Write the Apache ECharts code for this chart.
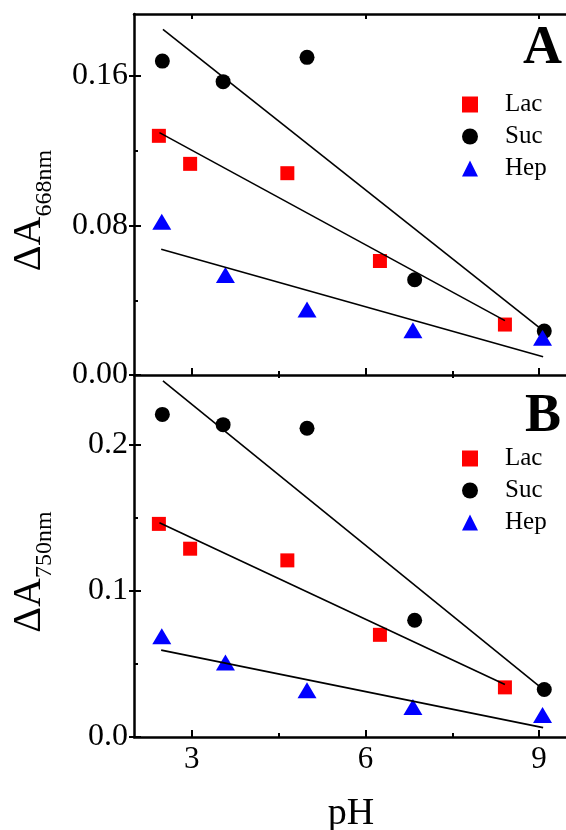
<!DOCTYPE html>
<html><head><meta charset="utf-8">
<script src="https://cdn.jsdelivr.net/npm/echarts@6/dist/echarts.min.js"></script>
<style>html,body{margin:0;padding:0;background:#fff}#c{width:566px;height:830px}</style>
</head><body><div id="c"></div>
<script>
// pH values of measured points
const lacPH = [2.43, 2.97, 4.65, 6.25, 8.41];
const sucPH = [2.49, 3.54, 4.99, 6.85, 9.09];
const hepPH = [2.48, 3.58, 4.99, 6.82, 9.06];
// Panel A: ΔA668nm
const lacA = [0.128, 0.113, 0.108, 0.061, 0.027];
const sucA = [0.168, 0.157, 0.170, 0.051, 0.0235];
const hepA = [0.082, 0.0535, 0.035, 0.024, 0.020];
// Panel B: ΔA750nm
const lacB = [0.146, 0.129, 0.121, 0.070, 0.034];
const sucB = [0.221, 0.214, 0.2115, 0.080, 0.0325];
const hepB = [0.069, 0.051, 0.032, 0.0206, 0.015];
// Linear fit lines (end points)
const fitLacPH = [2.44, 8.41];
const fitSucPH = [2.50, 9.06];
const fitHepPH = [2.47, 9.07];
const fitLacA = [0.1297, 0.0291];
const fitSucA = [0.185, 0.024];
const fitHepA = [0.0673, 0.0098];
const fitLacB = [0.1468, 0.0359];
const fitSucB = [0.244, 0.033];
const fitHepB = [0.0595, 0.0064];
// Ticks
const xTicks = [3, 6, 9];
const xMinor = [4.5, 7.5];
const yTicksA = [0, 0.08, 0.16];
const yMinorA = [0.04, 0.12];
const yTicksB = [0, 0.1, 0.2];
const yMinorB = [0.05, 0.15];

const FONT = 'Liberation Serif';
const X_MIN = 2, X_MAX = 9.5;
const Y_MAX_A = 0.1932, Y_MAX_B = 0.248;

const pair = (xs, ys) => xs.map((x, i) => [x, ys[i]]);

function xAx(grid, pos, vals, len, opts) {
  return Object.assign({
    type: 'value', gridIndex: grid, position: pos, min: X_MIN, max: X_MAX,
    splitLine: {show: false},
    axisLine: {show: false},
    axisTick: {show: true, inside: true, length: len, customValues: vals, lineStyle: {color: '#000', width: 2}},
    axisLabel: {show: false}
  }, opts || {});
}
function yAx(grid, max, vals, len, inside, opts) {
  return Object.assign({
    type: 'value', gridIndex: grid, position: 'left', min: 0, max: max,
    splitLine: {show: false},
    axisLine: {show: false},
    axisTick: {show: true, inside: inside, length: len, customValues: vals, lineStyle: {color: '#000', width: 2}},
    axisLabel: {show: false}
  }, opts || {});
}
const axisLine = {show: true, onZero: false, lineStyle: {color: '#000', width: 2.5}};
const yName = sub => ({
  name: '{a|ΔA}{b|' + sub + '}',
  nameLocation: 'middle', nameGap: 85, nameRotate: 90,
  nameTextStyle: {
    padding: [0, 32, 0, 0],
    rich: {
      a: {fontFamily: FONT, fontSize: 40, lineHeight: 40, color: '#000'},
      b: {fontFamily: FONT, fontSize: 24, lineHeight: 24, padding: [32, 0, 0, 0], color: '#000'}
    }
  }
});
const legendData = [{name: 'Lac', icon: 'rect'}, {name: 'Suc', icon: 'circle'}, {name: 'Hep', icon: 'triangle'}];
const legendBase = {
  data: legendData, orient: 'vertical', left: 462, itemWidth: 16, itemHeight: 16, itemGap: 7, padding: 0,
  selectedMode: false,
  textStyle: {fontFamily: FONT, fontSize: 25, color: '#000', padding: [0, 0, 0, 22]}
};

const option = {
  animation: false,
  backgroundColor: '#fff',
  title: [
    {text: 'A', left: 523, top: 22, padding: 0, textStyle: {fontFamily: FONT, fontWeight: 'bold', fontSize: 54, color: '#000'}},
    {text: 'B', left: 525, top: 390, padding: 0, textStyle: {fontFamily: FONT, fontWeight: 'bold', fontSize: 54, color: '#000'}}
  ],
  legend: [
    Object.assign({}, legendBase, {top: 92}),
    Object.assign({}, legendBase, {top: 446})
  ],
  grid: [
    {left: 134, right: -2, top: 14, height: 361, containLabel: false, outerBoundsMode: 'none'},
    {left: 134, right: -2, top: 375, height: 362, containLabel: false, outerBoundsMode: 'none'}
  ],
  xAxis: [
    xAx(0, 'bottom', xTicks, 7, {axisLine: axisLine}),          // 0 A bottom
    xAx(0, 'bottom', xMinor, 4),                                  // 1
    xAx(0, 'top', xTicks, 5, {axisLine: axisLine}),              // 2 A top
    xAx(0, 'top', xMinor, 3),                                     // 3
    xAx(1, 'bottom', xTicks, 7, {                                 // 4 B bottom
      axisLine: axisLine,
      axisLabel: {show: true, customValues: xTicks, fontFamily: FONT, fontSize: 31, color: '#000', margin: 7},
      name: 'pH', nameLocation: 'middle', nameGap: 58,
      nameTextStyle: {fontFamily: FONT, fontSize: 38, color: '#000'}
    }),
    xAx(1, 'bottom', xMinor, 4)                                   // 5
  ],
  yAxis: [
    yAx(0, Y_MAX_A, yTicksA, 5, false, Object.assign({           // 0 A labels
      axisLine: axisLine,
      axisLabel: {show: true, customValues: yTicksA, formatter: v => v.toFixed(2), fontFamily: FONT, fontSize: 32, color: '#000', margin: 6}
    }, yName('668nm'))),
    yAx(0, Y_MAX_A, yTicksA, 7, true),                            // 1
    yAx(0, Y_MAX_A, yMinorA, 4, true),                            // 2
    yAx(1, Y_MAX_B, yTicksB, 5, false, Object.assign({           // 3 B labels
      axisLine: axisLine,
      axisLabel: {show: true, customValues: yTicksB, formatter: v => v.toFixed(1), fontFamily: FONT, fontSize: 32, color: '#000', margin: 6}
    }, yName('750nm'))),
    yAx(1, Y_MAX_B, yTicksB, 7, true),                            // 4
    yAx(1, Y_MAX_B, yMinorB, 4, true)                             // 5
  ],
  series: [
    {name: 'Lac', type: 'scatter', xAxisIndex: 0, yAxisIndex: 0, symbol: 'rect', symbolSize: 14, itemStyle: {color: '#ff0000', opacity: 1}, data: pair(lacPH, lacA)},
    {name: 'Suc', type: 'scatter', xAxisIndex: 0, yAxisIndex: 0, symbol: 'circle', symbolSize: 15, itemStyle: {color: '#000', opacity: 1}, data: pair(sucPH, sucA)},
    {name: 'Hep', type: 'scatter', xAxisIndex: 0, yAxisIndex: 0, symbol: 'triangle', symbolSize: [19, 16], itemStyle: {color: '#0000ff', opacity: 1}, data: pair(hepPH, hepA)},
    {name: 'Lac', type: 'scatter', xAxisIndex: 4, yAxisIndex: 3, symbol: 'rect', symbolSize: 14, itemStyle: {color: '#ff0000', opacity: 1}, data: pair(lacPH, lacB)},
    {name: 'Suc', type: 'scatter', xAxisIndex: 4, yAxisIndex: 3, symbol: 'circle', symbolSize: 15, itemStyle: {color: '#000', opacity: 1}, data: pair(sucPH, sucB)},
    {name: 'Hep', type: 'scatter', xAxisIndex: 4, yAxisIndex: 3, symbol: 'triangle', symbolSize: [19, 16], itemStyle: {color: '#0000ff', opacity: 1}, data: pair(hepPH, hepB)},
    ...[
      [0, 0, fitLacPH, fitLacA], [0, 0, fitSucPH, fitSucA], [0, 0, fitHepPH, fitHepA],
      [4, 3, fitLacPH, fitLacB], [4, 3, fitSucPH, fitSucB], [4, 3, fitHepPH, fitHepB]
    ].map(([xi, yi, xs, ys], k) => ({
      name: 'fit' + k, type: 'line', xAxisIndex: xi, yAxisIndex: yi, symbol: 'none',
      lineStyle: {color: '#000', width: 1.6}, z: 3, silent: true, data: pair(xs, ys)
    }))
  ]
};
const chart = echarts.init(document.getElementById('c'), null, {renderer: 'canvas'});
chart.setOption(option);
</script></body></html>
